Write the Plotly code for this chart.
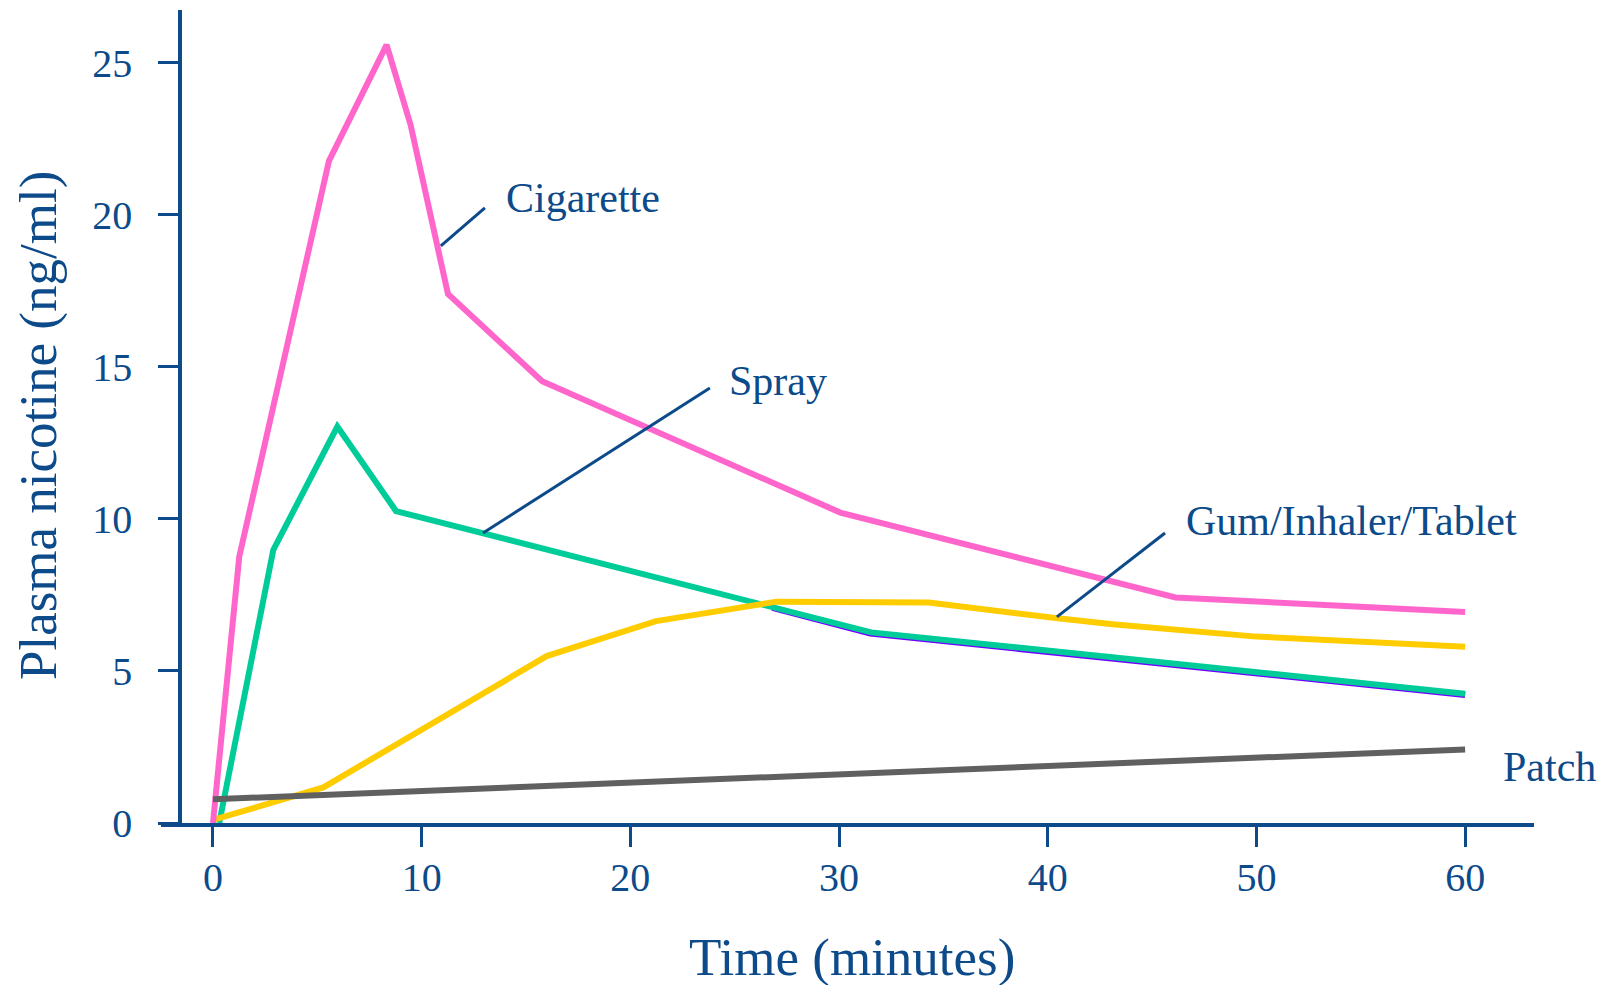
import plotly.graph_objects as go

# ---- data (minutes, ng/ml) ----
cig_x = [0, 1.26, 5.56, 8.32, 9.47, 11.26, 15.77, 30.06, 46.12, 60.0]
cig_y = [0, 8.76, 21.78, 25.59, 22.96, 17.40, 14.53, 10.21, 7.42, 6.94]

spray_x = [0.3, 2.89, 5.96, 8.77, 31.54, 60.0]
spray_y = [0.0, 8.98, 13.04, 10.26, 6.27, 4.25]

under_x = [26.8, 31.5, 60.0]
under_y = [7.08, 6.23, 4.21]

gum_x = [0, 5.29, 15.99, 21.23, 27.0, 30.06, 34.3, 40.37, 43.1, 50.0, 60.0]
gum_y = [0.1, 1.17, 5.49, 6.64, 7.28, 7.28, 7.25, 6.74, 6.54, 6.13, 5.80]

patch_x = [0, 60]
patch_y = [0.78, 2.42]

x_ticks = [0, 10, 20, 30, 40, 50, 60]
y_ticks = [0, 5, 10, 15, 20, 25]

labels = ["Cigarette", "Spray", "Gum/Inhaler/Tablet", "Patch"]
label_x = [13.94, 24.63, 46.53, 61.72]
label_y = [20.56, 14.54, 9.93, 1.84]
# leader lines: (x0, y0, x1, y1)
leaders = [(13.03, 20.23, 10.92, 18.98),
           (23.81, 14.31, 12.94, 9.54),
           (45.62, 9.54, 40.44, 6.78)]

BLUE = "#0C4A8A"
FONT = "Liberation Serif"
LW = 6

fig = go.Figure()
fig.add_trace(go.Scatter(x=under_x, y=under_y, mode="lines",
                         line=dict(color="#7000FF", width=LW), hoverinfo="skip"))
fig.add_trace(go.Scatter(x=spray_x, y=spray_y, mode="lines",
                         line=dict(color="#00CC99", width=LW)))
fig.add_trace(go.Scatter(x=gum_x, y=gum_y, mode="lines",
                         line=dict(color="#FFCC00", width=LW)))
fig.add_trace(go.Scatter(x=cig_x, y=cig_y, mode="lines",
                         line=dict(color="#FF66CC", width=LW)))
fig.add_trace(go.Scatter(x=patch_x, y=patch_y, mode="lines",
                         line=dict(color="#606060", width=LW)))

for (x0, y0, x1, y1) in leaders:
    fig.add_shape(type="line", x0=x0, y0=y0, x1=x1, y1=y1, xref="x", yref="y",
                  line=dict(color=BLUE, width=3), layer="above")

for t, lx, ly in zip(labels, label_x, label_y):
    fig.add_annotation(x=lx, y=ly, xref="x", yref="y", text=t, showarrow=False,
                       xanchor="left", yanchor="middle",
                       font=dict(family=FONT, size=42, color=BLUE))

fig.add_annotation(x=-0.0896, y=0.4895, xref="paper", yref="paper",
                   text="Plasma nicotine (ng/ml)", textangle=-90, showarrow=False,
                   xanchor="center", yanchor="middle",
                   font=dict(family=FONT, size=53, color=BLUE))
fig.add_annotation(x=0.503, y=-0.165, xref="paper", yref="paper",
                   text="Time (minutes)", showarrow=False,
                   xanchor="center", yanchor="middle",
                   font=dict(family=FONT, size=53, color=BLUE))

fig.update_layout(
    width=1607, height=985,
    margin=dict(l=153, r=81, t=2, b=170),
    paper_bgcolor="white", plot_bgcolor="white",
    showlegend=False,
    font=dict(family=FONT, color=BLUE),
    xaxis=dict(range=[-2.49, 63.3], tickvals=x_ticks, ticktext=[str(v) for v in x_ticks],
               showgrid=False, zeroline=False, showline=True, linecolor=BLUE, linewidth=3.5,
               ticks="outside", ticklen=20, tickwidth=3, tickcolor=BLUE,
               ticklabelstandoff=-4,
               tickfont=dict(family=FONT, size=40, color=BLUE)),
    yaxis=dict(range=[0, 26.74], tickvals=y_ticks, ticktext=[str(v) for v in y_ticks],
               anchor="free", position=0.01384,
               showgrid=False, zeroline=False, showline=True, linecolor=BLUE, linewidth=3.5,
               ticks="outside", ticklen=20, tickwidth=3, tickcolor=BLUE,
               ticklabelstandoff=18,
               tickfont=dict(family=FONT, size=40, color=BLUE)),
)

fig.write_html("out.html")
